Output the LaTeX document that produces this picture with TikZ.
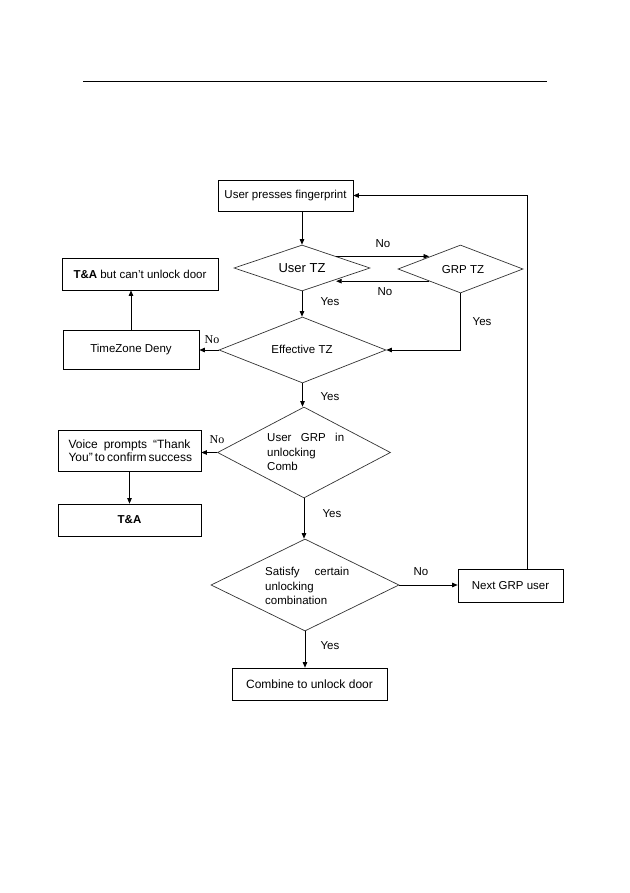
\documentclass[tikz,border=0pt]{standalone}
\usepackage{fontspec}
\setmainfont{Liberation Sans}
\newfontfamily\serifno{Liberation Serif}
\usetikzlibrary{shapes.geometric,arrows.meta,calc}
\tikzset{
  box/.style={draw=black,line width=0.7pt,rectangle,inner sep=0pt,font=\fontsize{11.5}{13}\selectfont},
  dia/.style={draw=black!80,line width=0.7pt,diamond,inner sep=0pt,shape aspect=1},
  arr/.style={draw=black,line width=0.7pt,-{Triangle[length=5.5pt,width=4.5pt]}},
  lbl/.style={font=\fontsize{11.5}{13}\selectfont,inner sep=0pt},
  slbl/.style={font=\serifno\fontsize{12}{13}\selectfont,inner sep=0pt},
  dtext/.style={font=\fontsize{11.5}{14.5}\selectfont,inner sep=0pt,align=left}
}
\begin{document}
\begin{tikzpicture}[x=1pt,y=-1pt]
\useasboundingbox (0,0) rectangle (629,893);
% top rule
\coordinate (r1) at (83,81);
\coordinate (r2) at (547,81);
\draw[line width=0.9pt] (r1) -- (r2);

% boxes
\node[box,minimum width=135pt,minimum height=31pt] (fp) at (285.5,195.5) {User presses fingerprint};
\node[box,minimum width=156pt,minimum height=32pt] (tab) at (140,274) {\textbf{T\&A} but can't unlock door};
\node[box,minimum width=136pt,minimum height=39pt] (td) at (131,349.5) {TimeZone Deny};
\node[box,minimum width=143pt,minimum height=41pt,align=center,font=\fontsize{12}{13.5}\selectfont] (voice) at (129.5,450.5)
  {\makebox[122pt][s]{Voice prompts ``Thank}\\\makebox[122pt][s]{You'' to confirm success}};
\node[box,minimum width=143pt,minimum height=32pt] (ta) at (129.5,520) {\textbf{T\&A}};
\node[box,minimum width=105pt,minimum height=33pt] (next) at (510.5,585.5) {Next GRP user};
\node[box,minimum width=155pt,minimum height=32pt,font=\fontsize{12}{13}\selectfont] (comb) at (309.5,684) {Combine to unlock door};

% diamonds
\node[dia,minimum width=136pt,minimum height=46pt] (utz) at (302,268) {};
\node[font=\fontsize{13}{14}\selectfont] (utzt) at (utz.center) {User TZ};
\node[dia,minimum width=125pt,minimum height=48pt] (grp) at (460.5,269) {};
\node[font=\fontsize{11.5}{13}\selectfont] (grpt) at (463,270) {GRP TZ};
\node[dia,minimum width=167pt,minimum height=66pt] (eff) at (302.5,350) {};
\node[font=\fontsize{11.5}{13}\selectfont] (efft) at (302,349) {Effective TZ};
\node[dia,minimum width=173pt,minimum height=91pt] (ugrp) at (304,452.5) {};
\node[dtext,anchor=west] (ugrpt) at (267,452) {\makebox[77pt][s]{User GRP in}\\unlocking\\Comb};
\node[dia,minimum width=188pt,minimum height=92pt] (sat) at (305,585) {};
\node[dtext,anchor=west] (satt) at (265,586) {\makebox[84pt][s]{Satisfy certain}\\unlocking\\combination};

% connectors
\draw[arr] (fp.south -| utz.north) -- (utz.north);
\draw[arr] (utz.north east) -- (utz.north east -| grp.north west);
\draw[arr] (grp.south west) -- (grp.south west -| utz.south east);
\draw[arr] (utz.south) -- (utz.south |- eff.north);
\draw[arr] (grp.south) -- (grp.south |- eff.east) -- (eff.east);
\draw[arr] (eff.west) -- (eff.west -| td.east);
\draw[arr] (td.north) -- (td.north |- tab.south);
\draw[arr] (eff.south) -- (eff.south |- ugrp.north);
\draw[arr] (ugrp.west) -- (ugrp.west -| voice.east);
\draw[arr] (voice.south) -- (ta.north);
\draw[arr] (ugrp.south) -- (ugrp.south |- sat.north);
\draw[arr] (sat.east) -- (sat.east -| next.west);
\draw[arr] (sat.south) -- (sat.south |- comb.north);
\coordinate (rt) at (527,195.5);
\draw[arr] (next.north -| rt) -- (rt) -- (fp.east);

% labels
\node[lbl] (l1) at (383,244) {No};
\node[lbl] (l2) at (385,292) {No};
\node[lbl] (l3) at (482,322) {Yes};
\node[lbl] (l4) at (330,302) {Yes};
\node[slbl] (l5) at (212,340) {No};
\node[lbl] (l6) at (330,397) {Yes};
\node[slbl] (l7) at (217,440) {No};
\node[lbl] (l8) at (332,514) {Yes};
\node[lbl] (l9) at (421,572) {No};
\node[lbl] (l10) at (330,646) {Yes};
\end{tikzpicture}
\end{document}
